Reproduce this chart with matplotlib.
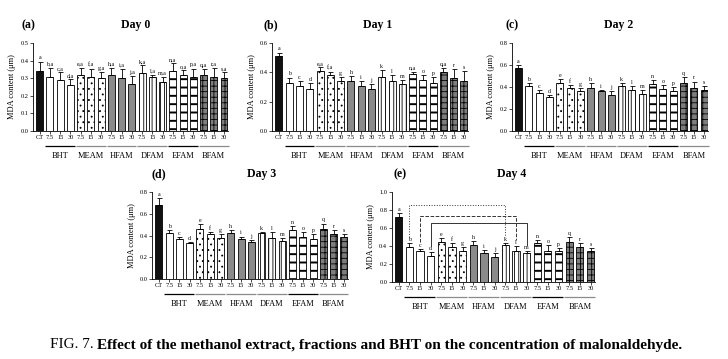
import matplotlib

matplotlib.use("Agg")
import matplotlib.pyplot as plt
import numpy as np

plt.rcParams.update(
    {
        "font.family": "Liberation Serif",
        "axes.linewidth": 0.6,
        "xtick.major.width": 0.5,
        "ytick.major.width": 0.5,
        "xtick.major.size": 2.0,
        "ytick.major.size": 2.0,
        "hatch.linewidth": 0.7,
    }
)

GROUPS = ["BHT", "MEAM", "HFAM", "DFAM", "EFAM", "BFAM"]
DOSES = ["7.5", "15", "30"]
TICK_LABELS = ["CT"] + DOSES * len(GROUPS)

# MDA content (um) per bar: CT, then 7.5/15/30 for each group
day0_mda = [0.34, 0.31, 0.29, 0.26, 0.32, 0.31, 0.30, 0.32, 0.30, 0.27,
            0.33, 0.31, 0.28, 0.34, 0.32, 0.31, 0.32, 0.31, 0.30]
day0_err = [0.055, 0.05, 0.045, 0.035, 0.04, 0.045, 0.035, 0.04, 0.055, 0.045,
            0.045, 0.01, 0.03, 0.045, 0.025, 0.045, 0.03, 0.05, 0.035]
day0_letters = ["a", "b,a", "c,a", "d,a", "e,a", "f,a", "g,a", "h,a", "i,a", "j,a",
                "k,a", "l,a", "m,a", "n,a", "o,a", "p,a", "q,a", "r,a", "s,a"]

day1_mda = [0.51, 0.33, 0.31, 0.29, 0.41, 0.38, 0.34, 0.34, 0.31, 0.29,
            0.37, 0.34, 0.32, 0.39, 0.35, 0.33, 0.40, 0.36, 0.34]
day1_err = [0.025, 0.035, 0.03, 0.04, 0.025, 0.025, 0.03, 0.035, 0.03, 0.03,
            0.045, 0.04, 0.03, 0.015, 0.03, 0.04, 0.03, 0.065, 0.07]
day1_letters = ["a", "b", "c", "d", "e,a", "f,a", "g", "h", "i", "j",
                "k", "l", "m", "n,a", "o", "p", "q,a", "r", "s"]

day2_mda = [0.57, 0.41, 0.35, 0.31, 0.44, 0.39, 0.36, 0.39, 0.36, 0.33,
            0.41, 0.37, 0.34, 0.43, 0.38, 0.36, 0.44, 0.39, 0.37]
day2_err = [0.03, 0.025, 0.025, 0.02, 0.03, 0.03, 0.03, 0.05, 0.015, 0.03,
            0.025, 0.04, 0.03, 0.03, 0.04, 0.04, 0.05, 0.06, 0.04]
day2_letters = list("abcdefghijklmnopqrs")

day3_mda = [0.68, 0.42, 0.37, 0.33, 0.46, 0.41, 0.38, 0.42, 0.37, 0.34,
            0.42, 0.38, 0.35, 0.45, 0.39, 0.37, 0.46, 0.41, 0.39]
day3_err = [0.065, 0.03, 0.015, 0.01, 0.045, 0.02, 0.035, 0.03, 0.02, 0.015,
            0.015, 0.05, 0.025, 0.035, 0.04, 0.04, 0.05, 0.04, 0.02]
day3_letters = list("abcdefghijklmnopqrs")

day4_mda = [0.72, 0.39, 0.35, 0.29, 0.45, 0.39, 0.35, 0.41, 0.32, 0.28,
            0.41, 0.35, 0.32, 0.43, 0.35, 0.34, 0.44, 0.39, 0.34]
day4_err = [0.05, 0.04, 0.02, 0.04, 0.04, 0.04, 0.04, 0.05, 0.04, 0.04,
            0.025, 0.05, 0.02, 0.04, 0.06, 0.04, 0.06, 0.04, 0.04]
day4_letters = list("abcdefghijklmnopqrs")

# comparison brackets on day 4: (bar from, bar to, bracket height, style)
day4_brackets = [(1, 10, 0.86, ":"), (2, 11, 0.73, "--"), (3, 12, 0.66, "-")]

STYLE = {
    "CT": ("#111111", ""),
    "BHT": ("white", ""),
    "MEAM": ("white", "..."),
    "HFAM": ("#8a8a8a", ""),
    "DFAM": ("white", "||||"),
    "EFAM": ("white", "--"),
    "BFAM": ("#7d7d7d", "+++"),
}
LINE_COLOR = {"BHT": "black", "MEAM": "#8a8a8a", "HFAM": "#8a8a8a",
              "DFAM": "#8a8a8a", "EFAM": "black", "BFAM": "#8a8a8a"}

PANELS = [
    # rect, values, errs, letters, ymax, ystep, tag, title, tag xy, title xy (px)
    ([0.0453, 0.635, 0.268, 0.245], day0_mda, day0_err, day0_letters, 0.5, 0.1, "(a)", "Day 0", (28, 25), (136, 25)),
    ([0.374, 0.635, 0.269, 0.245], day1_mda, day1_err, day1_letters, 0.6, 0.2, "(b)", "Day 1", (271, 25), (378, 25)),
    ([0.703, 0.635, 0.270, 0.245], day2_mda, day2_err, day2_letters, 0.8, 0.2, "(c)", "Day 2", (512, 25), (619, 25)),
    ([0.209, 0.223, 0.269, 0.242], day3_mda, day3_err, day3_letters, 0.8, 0.2, "(d)", "Day 3", (159, 174), (262, 174)),
    ([0.538, 0.2145, 0.279, 0.2505], day4_mda, day4_err, day4_letters, 1.0, 0.2, "(e)", "Day 4", (400, 174), (512, 174)),
]

W, H = 728, 359


def draw_panel(fig, rect, values, errs, letters, ymax, ystep):
    ax = fig.add_axes(rect)
    x = np.arange(len(values))
    names = ["CT"] + [g for g in GROUPS for _ in DOSES]
    for xi, v, name in zip(x, values, names):
        face, hatch = STYLE[name]
        lw = 1.4 if name == "EFAM" else 0.6
        with plt.rc_context({"hatch.linewidth": lw}):
            ax.bar(xi, v, width=0.68, color=face, edgecolor="black", linewidth=0.6, hatch=hatch, zorder=2)
    ax.errorbar(x, values, yerr=[np.zeros(len(errs)), errs], fmt="none", ecolor="black",
                elinewidth=0.6, capsize=1.8, capthick=0.6, zorder=3)
    for xi, v, e, lab in zip(x, values, errs, letters):
        ax.annotate(lab, (xi, v + e), xytext=(0, 0.8), textcoords="offset points",
                    ha="center", va="bottom", fontsize=4.2)
    ax.set_xlim(-0.65, len(values) - 0.6)
    ax.set_ylim(0, ymax)
    ticks = np.arange(0, ymax + 1e-9, ystep)
    ax.set_yticks(ticks)
    ax.set_yticklabels([f"{t:.1f}" for t in ticks])
    ax.set_xticks(x)
    ax.set_xticklabels(TICK_LABELS)
    ax.tick_params(axis="both", labelsize=4.6, pad=1.2)
    ax.spines["top"].set_visible(False)
    ax.spines["right"].set_visible(False)
    ax.set_ylabel("MDA content (μm)", fontsize=6, labelpad=3)
    h_px = rect[3] * H
    trans = ax.get_xaxis_transform()
    for k, g in enumerate(GROUPS):
        a, b = 1 + 3 * k, 3 + 3 * k
        ax.plot([a - 0.45, b + 0.45], [-15 / h_px] * 2, transform=trans, color=LINE_COLOR[g],
                lw=0.9, clip_on=False, solid_capstyle="butt")
        ax.text((a + b) / 2, -25 / h_px, g, transform=trans, ha="center", va="center", fontsize=6)
    return ax


def main() -> int:
    fig = plt.figure(figsize=(W / 100, H / 100), dpi=100, facecolor="white")
    axes = []
    for rect, vals, errs, letters, ymax, ystep, tag, title, tag_xy, title_xy in PANELS:
        ax = draw_panel(fig, rect, vals, errs, letters, ymax, ystep)
        axes.append(ax)
        fig.text(tag_xy[0] / W, 1 - tag_xy[1] / H, tag, ha="center", va="center", fontsize=8.5, weight="bold")
        fig.text(title_xy[0] / W, 1 - title_xy[1] / H, title, ha="center", va="center", fontsize=8.5, weight="bold")

    ax = axes[4]
    for i, j, h, ls in day4_brackets:
        yi = day4_mda[i] + day4_err[i] + 0.07
        yj = day4_mda[j] + day4_err[j] + 0.07
        ax.plot([i, i, j, j], [yi, h, h, yj], ls=ls, color="#333333", lw=0.7, zorder=4)

    # caption, regular prefix then bold text
    cap_y = 1 - 345 / H
    t1 = fig.text(50 / W, cap_y, "FIG. 7.", ha="left", va="center", fontsize=11)
    fig.canvas.draw()
    bb = t1.get_window_extent(fig.canvas.get_renderer())
    fig.text(bb.x1 / W + 3 / W, cap_y,
             "Effect of the methanol extract, fractions and BHT on the concentration of malonaldehyde.",
             ha="left", va="center", fontsize=11, weight="bold")

    fig.savefig("out.png", dpi=100, facecolor="white")
    plt.close(fig)
    return 0


if __name__ == "__main__":
    raise SystemExit(main())
